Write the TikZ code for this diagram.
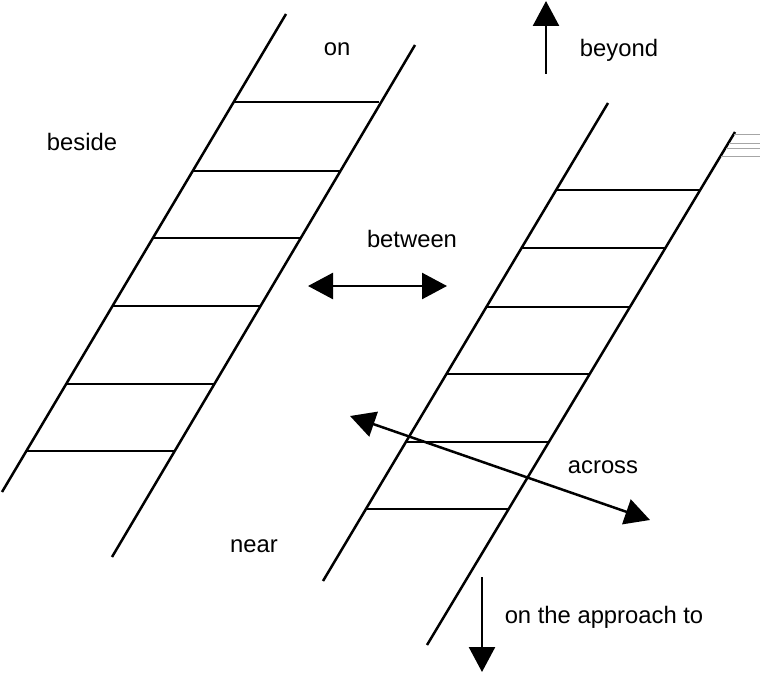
\documentclass[tikz,border=0pt]{standalone}
\usepackage{fontspec}
\setmainfont{Liberation Sans}
\usetikzlibrary{arrows.meta}
\begin{document}
\begin{tikzpicture}[x=1pt,y=-1pt,
  rail/.style={line width=2.5pt},
  rung/.style={line width=2.5pt},
  lbl/.style={font=\fontsize{23.8}{28}\selectfont, inner sep=0pt},
  arr/.style={line width=2.5pt, -{Triangle[length=25pt,width=26pt]}},
  darr/.style={line width=2.5pt, {Triangle[length=25pt,width=26pt]}-{Triangle[length=25pt,width=26pt]}},
  faint/.style={line width=0.9pt, black!35}]
\useasboundingbox (0,0) rectangle (760,674);
% left ladder
\draw[rail] (2,492) -- (286,14);
\draw[rail] (112,557) -- (415,45);
\draw[rung] (233,102) -- (379,102);
\draw[rung] (193,171) -- (340,171);
\draw[rung] (153,238) -- (301,238);
\draw[rung] (112,306) -- (260,306);
\draw[rung] (66,384) -- (214,384);
\draw[rung] (26,451) -- (175,451);
% right ladder
\draw[rail] (323,581) -- (608,103);
\draw[rail] (427,645) -- (735,132);
\draw[rung] (555,190) -- (700,190);
\draw[rung] (522,248) -- (665,248);
\draw[rung] (487,307) -- (630,307);
\draw[rung] (447,374) -- (590,374);
\draw[rung] (407,442) -- (549,442);
\draw[rung] (366,509) -- (509,509);
% faint lines at top right
\draw[faint] (734,134) -- (760,134);
\draw[faint] (729,143) -- (760,143);
\draw[faint] (726,148) -- (760,148);
\draw[faint] (721,156) -- (760,156);
% labels
\node[lbl] (on) at (337,49) {on};
\node[lbl] (beyond) at (619,50) {beyond};
\node[lbl] (beside) at (82,142) {beside};
\node[lbl] (between) at (412,239) {between};
\node[lbl] (across) at (603,467) {across};
\node[lbl] (near) at (254,546) {near};
\node[lbl] (approach) at (604,617) {on the approach to};
% arrows
\coordinate (upS) at (546,74);
\coordinate (upE) at (546,1);
\coordinate (btL) at (308,286);
\coordinate (btR) at (447,286);
\coordinate (acL) at (350,416);
\coordinate (acR) at (650,520);
\coordinate (dnS) at (482,577);
\coordinate (dnE) at (482,672);
\draw[arr] (upS) -- (upE);
\draw[darr] (btL) -- (btR);
\draw[darr] (acL) -- (acR);
\draw[arr] (dnS) -- (dnE);
\end{tikzpicture}
\end{document}
